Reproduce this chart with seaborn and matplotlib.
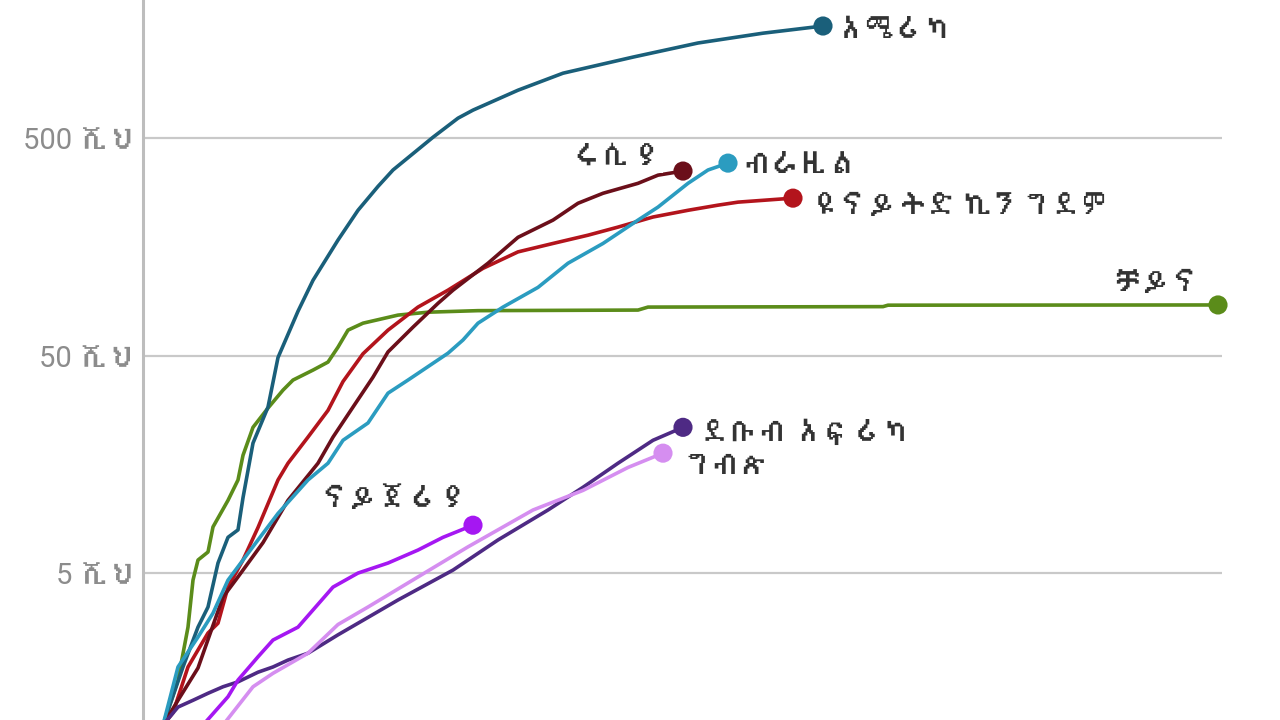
import pandas as pd
import matplotlib
matplotlib.use('Agg')
import matplotlib.pyplot as plt
import seaborn as sns
from matplotlib import font_manager
from fontTools.ttLib import TTFont

# cumulative cases (log scale), x = days since start
us_days = [0, 4, 7, 9, 11, 13, 15, 16, 18, 21, 23, 27, 30, 35, 39, 43, 46, 54, 59, 62, 71, 80, 94, 107, 120, 132]
us_cases = [1000, 1850, 2820, 3490, 5560, 7300, 7900, 11100, 19800, 29000, 49000, 80000, 111000, 170000,
            233000, 300000, 357000, 505000, 618000, 673000, 831000, 995000, 1180000, 1370000, 1520000, 1640000]

china_days = [0, 3, 5, 6, 7, 9, 10, 13, 15, 16, 18, 21, 24, 26, 30, 33, 35, 37, 40, 47, 53, 63, 95, 97, 144, 145, 211]
china_cases = [1000, 1610, 2820, 4640, 5740, 6250, 8150, 10800, 13400, 17400, 23400, 28700, 34700, 38600, 42900,
               46700, 54700, 65500, 70500, 76800, 79200, 80500, 81000, 83600, 84000, 85300, 85500]

uk_days = [0, 2, 5, 9, 11, 13, 16, 19, 23, 25, 29, 33, 36, 40, 45, 51, 57, 64, 71, 78, 85, 91, 98, 105, 111, 115, 126]
uk_cases = [1000, 1140, 1850, 2650, 2940, 4310, 5740, 8100, 13400, 16000, 21100, 28000, 38000, 51000, 65500,
            83600, 100000, 126000, 150000, 164000, 179000, 195000, 217000, 233000, 246000, 254000, 265000]

russia_days = [0, 3, 7, 12, 15, 20, 25, 31, 34, 38, 42, 45, 50, 55, 58, 65, 71, 78, 83, 88, 95, 99, 104]
russia_cases = [1000, 1300, 1830, 3880, 4800, 6900, 10800, 16000, 21100, 29000, 39800, 52000, 67600, 87000,
                100000, 133000, 175000, 210000, 251000, 279000, 310000, 338000, 353000]

brazil_days = [0, 3, 7, 10, 13, 19, 23, 29, 33, 36, 41, 45, 49, 57, 60, 63, 68, 75, 81, 88, 95, 99, 105, 109, 113]
brazil_cases = [1000, 1850, 2540, 3270, 4640, 7100, 9400, 13400, 16000, 20400, 24500, 33600, 38600, 51300,
                59000, 70500, 83600, 103000, 133000, 164000, 210000, 241000, 310000, 357000, 384000]

sa_days = [0, 3, 6, 9, 12, 15, 19, 22, 25, 29, 35, 47, 58, 67, 77, 84, 91, 98, 104]
sa_cases = [1000, 1210, 1300, 1400, 1500, 1580, 1750, 1850, 1990, 2140, 2600, 3760, 5160, 7100, 9750,
            12400, 16000, 20400, 23400]

egypt_days = [12, 18, 22, 29, 35, 41, 51, 61, 74, 84, 93, 100]
egypt_cases = [1000, 1500, 1730, 2140, 2900, 3490, 4800, 6600, 9750, 12000, 15300, 17800]

nigeria_days = [8, 13, 15, 19, 22, 27, 34, 39, 45, 51, 56, 62]
nigeria_cases = [1000, 1350, 1610, 2060, 2460, 2820, 4310, 5000, 5560, 6380, 7300, 8300]

countries = ['ቻይና', 'አሜሪካ', 'ዩናይትድ ኪንግደም', 'ሩሲያ', 'ብራዚል', 'ደቡብ አፍሪካ', 'ግብጽ', 'ናይጀሪያ']
series = [(china_days, china_cases), (us_days, us_cases), (uk_days, uk_cases), (russia_days, russia_cases),
          (brazil_days, brazil_cases), (sa_days, sa_cases), (egypt_days, egypt_cases),
          (nigeria_days, nigeria_cases)]
colors = ['#5b8c1a', '#1a5f7a', '#b3141c', '#6b0f1a', '#2b9cc0', '#4e2a84', '#d58ef0', '#a517f2']

ytick_vals = [5000, 50000, 500000]
ytick_labels = ['5 ሺህ', '50 ሺህ', '500 ሺህ']

# label offsets from the end dot (points) and alignment
label_style = {
    'አሜሪካ': (10, -3, 'left'),
    'ሩሲያ': (-16, 10, 'right'),
    'ብራዚል': (10, -1, 'left'),
    'ዩናይትድ ኪንግደም': (13, -6, 'left'),
    'ቻይና': (-12, 16, 'right'),
    'ደቡብ አፍሪካ': (12, -4, 'left'),
    'ግብጽ': (14, -9, 'left'),
    'ናይጀሪያ': (-4, 19, 'right'),
}


def find_ethiopic_font():
    """Return an installed font covering Ethiopic, preferring proportional ones"""
    found = []
    for f in font_manager.fontManager.ttflist:
        try:
            tt = TTFont(f.fname, fontNumber=0, lazy=True)
            cmap = tt.getBestCmap()
            if cmap and 0x12A0 in cmap and 0x12ED in cmap:
                found.append(f.name)
        except Exception:
            continue
    prop = [n for n in found if 'mono' not in n.lower()]
    if prop:
        return prop[0]
    return found[0] if found else None


rows = []
for name, (days, cases) in zip(countries, series):
    for d, c in zip(days, cases):
        rows.append({'country': name, 'day': d, 'cases': c})
df = pd.DataFrame(rows)
last = df.groupby('country', sort=False).tail(1)

sns.set_style('white')
eth = find_ethiopic_font()
families = ['Roboto'] + ([eth] if eth else []) + ['DejaVu Sans']
plt.rcParams['font.family'] = families

fig = plt.figure(figsize=(12.8, 7.2), dpi=100)
ax = fig.add_axes([143 / 1280, 0, (1222 - 143) / 1280, 1])

palette = dict(zip(countries, colors))
sns.lineplot(data=df, x='day', y='cases', hue='country', palette=palette, linewidth=2.6,
             legend=False, sort=False, ax=ax, zorder=3)
sns.scatterplot(data=last, x='day', y='cases', hue='country', palette=palette, s=190,
                edgecolor='none', legend=False, ax=ax, zorder=4, clip_on=False)

ax.set_yscale('log')
ax.set_ylim(1055, 2.16e6)
ax.set_xlim(-4, 211.8)

ax.set_yticks(ytick_vals)
ax.set_yticklabels(ytick_labels)
ax.minorticks_off()
ax.tick_params(axis='y', length=0, pad=4, labelsize=21, labelcolor='#8c8c8c')
ax.set_xticks([])
ax.set_xlabel('')
ax.set_ylabel('')
ax.grid(axis='y', color='#c9c9c9', linewidth=1.6)
ax.set_axisbelow(True)

for s in ['top', 'right', 'bottom']:
    ax.spines[s].set_visible(False)
ax.spines['left'].set_color('#bdbdbd')
ax.spines['left'].set_linewidth(2.2)

for _, r in last.iterrows():
    dx, dy, ha = label_style[r['country']]
    ax.annotate(r['country'], (r['day'], r['cases']), xytext=(dx, dy), textcoords='offset points',
                ha=ha, va='center', fontsize=21, color='#333333', zorder=5, annotation_clip=False,
                bbox=dict(facecolor='white', edgecolor='none', pad=1.5, alpha=0.9))

fig.savefig('out.png', dpi=100)
